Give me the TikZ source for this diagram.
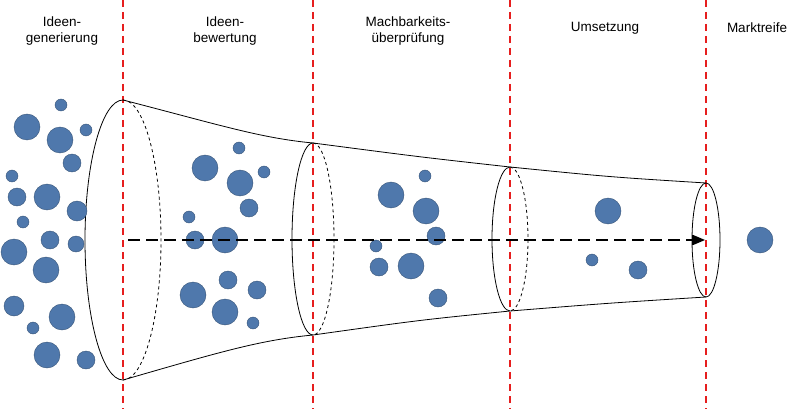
\documentclass[tikz,border=0pt]{standalone}
\usepackage{fontspec}
\setmainfont{Liberation Sans}
\usetikzlibrary{arrows}
\definecolor{ballblue}{RGB}{79,120,172}
\definecolor{phasered}{RGB}{230,30,30}
\newcommand{\ball}[3]{\fill[ballblue,draw=ballblue!70!black,line width=0.4pt] (#1,#2) circle (#3);}
\tikzset{
  phase/.style={draw=phasered,line width=1.2pt,dash pattern=on 7pt off 5pt},
  label/.style={align=center,font=\fontsize{13.5}{16}\selectfont},
  funnel/.style={line width=0.8pt}
}
\begin{document}
\begin{tikzpicture}[x=1pt,y=-1pt,>=triangle 45]
\useasboundingbox (0,0) rectangle (800,409);
% Phasengrenzen
\foreach \x in {123,313,510,706}
  \draw[phase] (\x,0) -- (\x,409);
% Beschriftungen
\node[label] (gen) at (62,31) {Ideen-\\generierung};
\node[label] (bew) at (225,31) {Ideen-\\bewertung};
\node[label] (mach) at (408,31) {Machbarkeits-\\überprüfung};
\node[label] (ums) at (605,28) {Umsetzung};
\node[label] (markt) at (757,28) {Marktreife};
% Trichter
\draw[funnel] (123,100) .. controls (220,125) and (260,138) .. (313,143)
  .. controls (420,157) .. (510,167) .. controls (610,177) .. (706,183);
\draw[funnel] (123,380) .. controls (220,352) and (260,340) .. (313,335)
  .. controls (420,320) .. (510,311) .. controls (610,303) .. (706,297);
\draw[funnel] (123,100) arc[start angle=-90,end angle=-270,x radius=38,y radius=140];
\draw[funnel,dashed] (123,100) arc[start angle=-90,end angle=90,x radius=38,y radius=140];
\draw[funnel] (313,143) arc[start angle=-90,end angle=-270,x radius=21,y radius=96];
\draw[funnel,dashed] (313,143) arc[start angle=-90,end angle=90,x radius=21,y radius=96];
\draw[funnel] (510,167) arc[start angle=-90,end angle=-270,x radius=18,y radius=72];
\draw[funnel,dashed] (510,167) arc[start angle=-90,end angle=90,x radius=18,y radius=72];
\draw[funnel] (706,240) ellipse[x radius=14,y radius=57];
% Ideen
\ball{27}{127}{13} \ball{61}{105}{6} \ball{60}{140}{13} \ball{86}{130}{6}
\ball{72}{163}{9} \ball{12}{176}{6} \ball{17}{197}{9} \ball{47}{197}{13}
\ball{77}{211}{10} \ball{23}{222}{6} \ball{50}{240}{9} \ball{14}{252}{13}
\ball{76}{244}{8} \ball{46}{270}{13} \ball{14}{306}{10} \ball{62}{317}{13}
\ball{33}{328}{6} \ball{47}{355}{13} \ball{86}{360}{9}
\ball{205}{168}{13} \ball{239}{148}{6} \ball{240}{183}{13} \ball{264}{172}{6}
\ball{249}{208}{9} \ball{189}{217}{6} \ball{195}{240}{9} \ball{225}{240}{13}
\ball{228}{280}{9} \ball{193}{295}{13} \ball{257}{290}{9} \ball{225}{312}{13}
\ball{253}{323}{6}
\ball{391}{195}{13} \ball{425}{176}{6} \ball{426}{211}{13} \ball{436}{236}{9}
\ball{376}{246}{6} \ball{379}{267}{9} \ball{411}{266}{13} \ball{438}{298}{9}
\ball{608}{211}{13} \ball{592}{260}{6} \ball{638}{270}{9}
\ball{760}{240}{13}
% Pfeil
\coordinate (start) at (128,240);
\coordinate (ziel) at (705,240);
\draw[->,line width=2pt,dash pattern=on 12pt off 6pt] (start) -- (ziel);
\end{tikzpicture}
\end{document}
